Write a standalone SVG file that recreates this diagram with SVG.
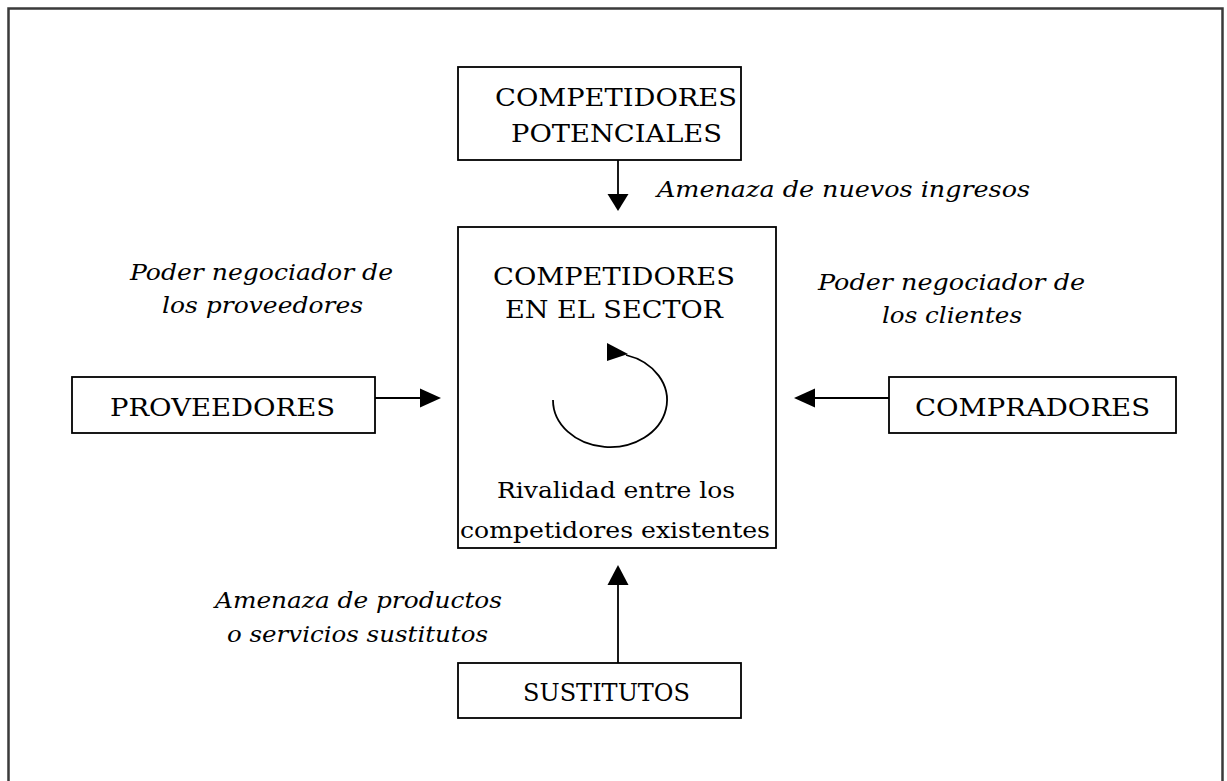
<svg xmlns="http://www.w3.org/2000/svg" width="1227" height="781" viewBox="0 0 1227 781">
<style>
.box{fill:#fff;stroke:#000;stroke-width:1.8}
.t{font-family:"DejaVu Serif","Liberation Serif",serif;font-size:25px;fill:#000}
.s{font-family:"DejaVu Serif","Liberation Serif",serif;font-size:23px;fill:#000}
.i{font-family:"DejaVu Serif","Liberation Serif",serif;font-size:23px;font-style:italic;fill:#000}
.c{stroke:#000;stroke-width:1.8;fill:none}
.h{fill:#000;stroke:none}
</style>
<rect width="1227" height="781" fill="#fff"/>
<path d="M8.5,781 V8.5 H1222.5 V781" fill="none" stroke="#3a3a3a" stroke-width="2.5"/>
<g id="potenciales">
<rect class="box" x="458" y="67" width="283" height="93"/>
<text class="t" x="495" y="106" textLength="242" lengthAdjust="spacingAndGlyphs">COMPETIDORES</text>
<text class="t" x="511" y="142" textLength="211" lengthAdjust="spacingAndGlyphs">POTENCIALES</text>
</g>
<g id="sector">
<rect class="box" x="458" y="227" width="318" height="321"/>
<text class="t" x="493" y="285" textLength="242" lengthAdjust="spacingAndGlyphs">COMPETIDORES</text>
<text class="t" x="505" y="318" textLength="218" lengthAdjust="spacingAndGlyphs">EN EL SECTOR</text>
<path class="c" d="M553,400 A57,47 0 1 0 626,355"/>
<polygon class="h" points="607,343 607,361 628,354"/>
<text class="s" x="497" y="498" textLength="238" lengthAdjust="spacingAndGlyphs">Rivalidad entre los</text>
<text class="s" x="460" y="538" textLength="310" lengthAdjust="spacingAndGlyphs">competidores existentes</text>
</g>
<g id="proveedores">
<rect class="box" x="72" y="377" width="303" height="56"/>
<text class="t" x="110" y="416" textLength="225" lengthAdjust="spacingAndGlyphs">PROVEEDORES</text>
</g>
<g id="compradores">
<rect class="box" x="889" y="377" width="287" height="56"/>
<text class="t" x="915" y="416" textLength="235" lengthAdjust="spacingAndGlyphs">COMPRADORES</text>
</g>
<g id="sustitutos">
<rect class="box" x="458" y="663" width="283" height="55"/>
<text class="t" x="523" y="701" textLength="167" lengthAdjust="spacingAndGlyphs">SUSTITUTOS</text>
</g>
<g id="labels">
<text class="i" x="657" y="197" textLength="373" lengthAdjust="spacingAndGlyphs">Amenaza de nuevos ingresos</text>
<text class="i" x="130" y="280" textLength="263" lengthAdjust="spacingAndGlyphs">Poder negociador de</text>
<text class="i" x="162" y="313" textLength="201" lengthAdjust="spacingAndGlyphs">los proveedores</text>
<text class="i" x="818" y="290" textLength="267" lengthAdjust="spacingAndGlyphs">Poder negociador de</text>
<text class="i" x="882" y="323" textLength="140" lengthAdjust="spacingAndGlyphs">los clientes</text>
<text class="i" x="215" y="608" textLength="287" lengthAdjust="spacingAndGlyphs">Amenaza de productos</text>
<text class="i" x="227" y="642" textLength="261" lengthAdjust="spacingAndGlyphs">o servicios sustitutos</text>
</g>
<g id="connectors">
<line class="c" x1="618" y1="160" x2="618" y2="197"/>
<polygon class="h" points="607.5,194 628.5,194 618,211"/>
<line class="c" x1="375" y1="398" x2="423" y2="398"/>
<polygon class="h" points="420,388.5 420,407.5 441,398"/>
<line class="c" x1="889" y1="398" x2="812" y2="398"/>
<polygon class="h" points="815,388.5 815,407.5 794,398"/>
<line class="c" x1="618" y1="663" x2="618" y2="583"/>
<polygon class="h" points="607.5,585 628.5,585 618,565"/>
</g>
</svg>
